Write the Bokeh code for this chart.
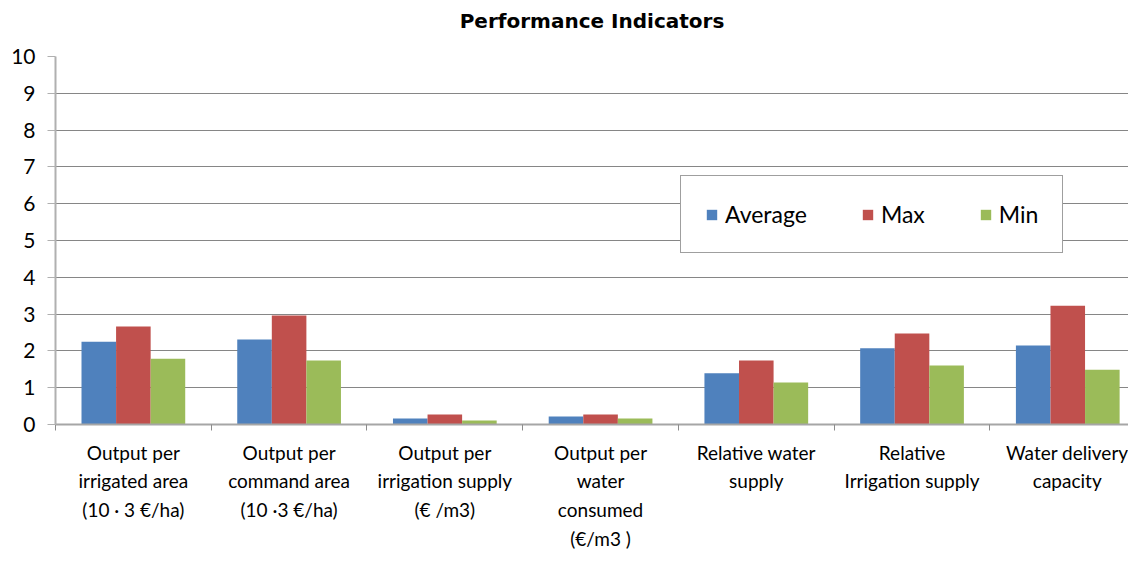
from bokeh.plotting import figure
from bokeh.models import ColumnDataSource, Range1d, FixedTicker, Legend, LegendItem, Title
from bokeh.transform import dodge
from bokeh.embed import file_html
from bokeh.resources import INLINE

title_text = "Performance Indicators"
categories = [
    "Output per\nirrigated area\n(10 · 3 €/ha)",
    "Output per\ncommand area\n(10 ·3 €/ha)",
    "Output per\nirrigation supply\n(€ /m3)",
    "Output per\nwater\nconsumed\n(€/m3 )",
    "Relative water\nsupply",
    "Relative\nIrrigation supply",
    "Water delivery\ncapacity",
]
average = [2.25, 2.31, 0.16, 0.22, 1.39, 2.07, 2.15]
maximum = [2.66, 2.96, 0.27, 0.27, 1.74, 2.47, 3.23]
minimum = [1.79, 1.74, 0.11, 0.16, 1.14, 1.60, 1.49]
series_names = ["Average", "Max", "Min"]
colors = ["#4F81BD", "#C0504D", "#9BBB59"]
y_ticks = list(range(0, 11))

xpos = [i + 0.5 for i in range(len(categories))]
src = ColumnDataSource(dict(x=xpos, avg=average, mx=maximum, mn=minimum))

p = figure(width=1128, height=554, output_backend="svg", toolbar_location=None,
           x_range=Range1d(0, 6.89), y_range=Range1d(0, 10),
           min_border_left=55, min_border_right=0, min_border_top=56,
           min_border_bottom=130)
p.title.text = title_text
p.title.align = "center"
p.title.vertical_align = "bottom"
p.title.text_font = "DejaVu Sans"
p.title.text_font_style = "bold"
p.title.text_font_size = "20px"
p.title.text_color = "#000000"
p.title.standoff = 0

# empty spacer panel between the title and the plot frame
spacer = Title(text=" ", text_font_size="1px", standoff=21)
p.add_layout(spacer, "above")

bw = 0.222
fields = ["avg", "mx", "mn"]
offsets = [-bw, 0.0, bw]
renderers = []
for f, off, c in zip(fields, offsets, colors):
    r = p.vbar(x=dodge("x", off), top=f, width=bw, bottom=0, source=src,
               fill_color=c, line_color=None)
    renderers.append(r)

legend = Legend(items=[LegendItem(label=n, renderers=[r]) for n, r in zip(series_names, renderers)],
                orientation="horizontal", location=(625, 171))
legend.label_text_font = "Lato"
legend.label_text_font_size = "23px"
legend.label_text_color = "#000000"
legend.glyph_width = 13
legend.glyph_height = 13
legend.label_standoff = 7
legend.spacing = 54
legend.padding = 24
legend.margin = 0
legend.border_line_color = "#404040"
legend.border_line_width = 1
legend.background_fill_color = "white"
legend.background_fill_alpha = 1.0
p.add_layout(legend)

p.outline_line_color = None
p.xgrid.grid_line_color = None
p.ygrid.grid_line_color = "#868686"
p.ygrid.grid_line_width = 1

# y axis
p.yaxis.ticker = FixedTicker(ticks=y_ticks, minor_ticks=[])
p.yaxis.axis_line_color = "#b0b0b0"
p.yaxis.axis_line_width = 2
p.yaxis.major_tick_line_color = "#b0b0b0"
p.yaxis.major_tick_out = 8
p.yaxis.major_tick_in = 0
p.yaxis.minor_tick_line_color = None
p.yaxis.major_label_standoff = 12
p.yaxis.major_label_text_font = "Lato"
p.yaxis.major_label_text_font_size = "21px"
p.yaxis.major_label_text_color = "#000000"

# x axis
p.xaxis.ticker = FixedTicker(ticks=xpos, minor_ticks=list(range(len(categories) + 1)))
p.xaxis.major_label_overrides = {x: c for x, c in zip(xpos, categories)}
p.xaxis.axis_line_color = "#a6a6a6"
p.xaxis.axis_line_width = 2
p.xaxis.major_tick_line_color = None
p.xaxis.minor_tick_line_color = "#8c8c8c"
p.xaxis.minor_tick_out = 6
p.xaxis.minor_tick_in = 0
p.xaxis.major_label_standoff = 10
p.xaxis.major_label_text_font = "Lato"
p.xaxis.major_label_text_font_size = "19px"
p.xaxis.major_label_text_color = "#000000"
p.xaxis.major_label_text_line_height = 1.25

open("out.html", "w").write(file_html(p, INLINE))
